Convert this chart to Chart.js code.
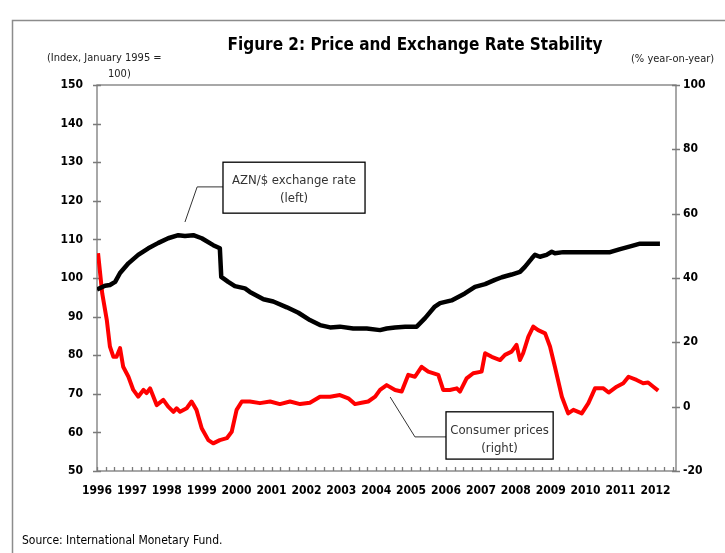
<!DOCTYPE html>
<html>
<head>
<meta charset="utf-8">
<script src="https://cdn.jsdelivr.net/npm/chart.js@4"></script>
<style>
  html, body { margin: 0; padding: 0; background: #fff; }
  #wrap { width: 725px; height: 553px; }
</style>
</head>
<body>
<div id="wrap"><canvas id="myChart" width="725" height="553"></canvas></div>
<script>
// AZN/$ exchange rate (left axis, index Jan 1995 = 100)
const fxYears = [1996.0, 1996.23, 1996.37, 1996.52, 1996.66, 1996.9, 1997.18, 1997.47, 1997.76, 1998.04,
  1998.33, 1998.52, 1998.76, 1999.0, 1999.33, 1999.52, 1999.56, 1999.76, 1999.95, 2000.24,
  2000.38, 2000.77, 2001.05, 2001.44, 2001.77, 2002.1, 2002.39, 2002.68, 2002.96, 2003.34,
  2003.73, 2004.11, 2004.3, 2004.54, 2004.83, 2005.16, 2005.4, 2005.68, 2005.83, 2006.16,
  2006.54, 2006.83, 2007.12, 2007.4, 2007.6, 2007.88, 2008.12, 2008.26, 2008.46, 2008.55,
  2008.69, 2008.88, 2009.03, 2009.12, 2009.36, 2009.93, 2010.7, 2010.99, 2011.28, 2011.56,
  2011.85, 2012.13];
const fxValues = [97.0, 98.0, 98.2, 99.0, 101.3, 103.8, 106.0, 107.7, 109.1, 110.3,
  111.1, 110.9, 111.1, 110.3, 108.5, 107.7, 100.3, 99.0, 97.9, 97.3,
  96.4, 94.5, 93.9, 92.4, 91.0, 89.1, 87.8, 87.2, 87.4, 86.9,
  86.9, 86.5, 86.9, 87.2, 87.4, 87.4, 89.6, 92.6, 93.5, 94.2,
  96.0, 97.7, 98.4, 99.5, 100.2, 100.9, 101.6, 102.9, 105.1, 106.0,
  105.5, 106.0, 106.8, 106.4, 106.7, 106.7, 106.7, 107.5, 108.2, 108.9,
  108.9, 108.9];

// Consumer prices (right axis, % year-on-year)
const cpiYears = [1996.03, 1996.15, 1996.28, 1996.37, 1996.47, 1996.56, 1996.66, 1996.75, 1996.9, 1997.04,
  1997.18, 1997.33, 1997.42, 1997.52, 1997.71, 1997.9, 1998.04, 1998.19, 1998.28, 1998.38,
  1998.57, 1998.71, 1998.85, 1999.0, 1999.19, 1999.33, 1999.52, 1999.72, 1999.86, 2000.0,
  2000.15, 2000.38, 2000.67, 2000.96, 2001.24, 2001.53, 2001.82, 2002.1, 2002.39, 2002.68,
  2002.96, 2003.2, 2003.39, 2003.58, 2003.77, 2003.97, 2004.11, 2004.3, 2004.54, 2004.73,
  2004.92, 2005.11, 2005.3, 2005.49, 2005.78, 2005.92, 2006.11, 2006.31, 2006.4, 2006.59,
  2006.78, 2007.02, 2007.12, 2007.31, 2007.55, 2007.69, 2007.88, 2008.02, 2008.12, 2008.21,
  2008.36, 2008.5, 2008.64, 2008.84, 2008.98, 2009.12, 2009.32, 2009.5, 2009.65, 2009.89,
  2010.08, 2010.27, 2010.51, 2010.66, 2010.89, 2011.08, 2011.23, 2011.46, 2011.65, 2011.79,
  2011.94, 2012.08];
const cpiValues = [47.7, 35.2, 27.0, 18.7, 15.5, 15.5, 18.2, 12.4, 9.3, 5.2,
  3.1, 5.2, 4.2, 5.7, 0.5, 2.1, 0.0, -1.6, -0.5, -1.6,
  -0.5, 1.6, -1.0, -6.7, -10.4, -11.4, -10.4, -9.8, -7.8, -1.0,
  1.6, 1.6, 1.1, 1.6, 0.8, 1.6, 0.8, 1.2, 3.1, 3.1,
  3.6, 2.6, 0.8, 1.2, 1.6, 3.1, 5.2, 6.7, 5.2, 4.7,
  9.9, 9.3, 12.4, 10.9, 9.9, 5.2, 5.2, 5.7, 4.7, 8.8,
  10.4, 10.9, 16.6, 15.5, 14.5, 16.1, 17.1, 19.2, 14.5, 16.6,
  21.8, 24.9, 23.8, 22.8, 18.7, 12.4, 3.1, -2.1, -1.0, -2.1,
  1.1, 5.7, 5.7, 4.4, 6.2, 7.3, 9.3, 8.3, 7.3, 7.5,
  6.2, 5.0];

const yearLabels = [1996, 1997, 1998, 1999, 2000, 2001, 2002, 2003, 2004, 2005, 2006, 2007, 2008, 2009, 2010, 2011, 2012];
const leftTicks = [50, 60, 70, 80, 90, 100, 110, 120, 130, 140, 150];
const rightTicks = [-20, 0, 20, 40, 60, 80, 100];

const FONT = "'Liberation Sans Narrow', 'DejaVu Sans Condensed', 'Liberation Sans', sans-serif";
const AXIS_GREY = "#7a7a7a";

const decorations = {
  id: "decorations",
  beforeDatasetsDraw(chart) {
    const { ctx, chartArea: a, scales } = chart;
    ctx.save();
    // outer frame (cut off at right and bottom)
    ctx.strokeStyle = "#8c8c8c";
    ctx.lineWidth = 1.5;
    ctx.beginPath();
    ctx.moveTo(12.5, 553);
    ctx.lineTo(12.5, 20.5);
    ctx.lineTo(725, 20.5);
    ctx.stroke();

    // plot box
    ctx.strokeStyle = AXIS_GREY;
    ctx.lineWidth = 1.3;
    ctx.strokeRect(a.left, a.top, a.right - a.left, a.bottom - a.top);

    ctx.beginPath();
    leftTicks.forEach(v => {
      const y = Math.round(scales.y.getPixelForValue(v)) + 0.5;
      ctx.moveTo(a.left - 4, y); ctx.lineTo(a.left + 4, y);
    });
    rightTicks.forEach(v => {
      const y = Math.round(scales.y1.getPixelForValue(v)) + 0.5;
      ctx.moveTo(a.right - 4, y); ctx.lineTo(a.right + 4, y);
    });
    for (let q = 1996; q <= scales.x.max; q += 0.25) {
      const x = Math.round(scales.x.getPixelForValue(q)) + 0.5;
      ctx.moveTo(x, a.bottom); ctx.lineTo(x, a.bottom - 4);
    }
    ctx.stroke();

    // titles
    ctx.fillStyle = "#000";
    ctx.textBaseline = "alphabetic";
    ctx.textAlign = "center";
    ctx.font = "bold 17px " + FONT;
    ctx.fillText("Figure 2: Price and Exchange Rate Stability", 415, 50);

    ctx.font = "11px " + FONT;
    ctx.fillStyle = "#222";
    ctx.textAlign = "left";
    ctx.fillText("(Index, January 1995 =", 47, 61);
    ctx.fillText("100)", 108, 77);
    ctx.fillText("(% year-on-year)", 631, 62);

    ctx.font = "12px " + FONT;
    ctx.fillStyle = "#000";
    ctx.fillText("Source: International Monetary Fund.", 22, 544);
    ctx.restore();
  },
  afterDatasetsDraw(chart) {
    const { ctx, scales } = chart;
    const px = v => scales.x.getPixelForValue(v);
    ctx.save();
    const callout = (pts, box, lines) => {
      ctx.strokeStyle = "#333";
      ctx.lineWidth = 1;
      ctx.beginPath();
      pts.forEach((p, i) => i ? ctx.lineTo(p[0], p[1]) : ctx.moveTo(p[0], p[1]));
      ctx.stroke();
      ctx.fillStyle = "#fff";
      ctx.fillRect(box[0], box[1], box[2] - box[0], box[3] - box[1]);
      ctx.strokeStyle = "#000";
      ctx.lineWidth = 1.3;
      ctx.strokeRect(box[0], box[1], box[2] - box[0], box[3] - box[1]);
      ctx.fillStyle = "#333";
      ctx.font = "13px " + FONT;
      ctx.textAlign = "center";
      const cx = (box[0] + box[2]) / 2;
      ctx.fillText(lines[0], cx, box[1] + 22);
      ctx.fillText(lines[1], cx, box[1] + 40);
    };
    const ly = v => scales.y.getPixelForValue(v);
    callout(
      [[px(1998.52), ly(114.5)], [px(1998.87), ly(123.6)], [px(1999.61), ly(123.6)]],
      [px(1999.61), ly(130.0), px(2003.68), ly(116.8)],
      ["AZN/$ exchange rate", "(left)"]
    );
    const ry = v => scales.y1.getPixelForValue(v);
    callout(
      [[px(2004.4), ry(3.0)], [px(2005.11), ry(-9.4)], [px(2006.0), ry(-9.4)]],
      [px(2006.0), ry(-1.6), px(2009.07), ry(-16.3)],
      ["Consumer prices", "(right)"]
    );
    ctx.restore();
  }
};

const tickFont = { family: FONT, size: 12, weight: "bold" };

new Chart(document.getElementById("myChart"), {
  type: "line",
  data: {
    datasets: [
      {
        label: "AZN/$ exchange rate (left)",
        data: fxYears.map((x, i) => ({ x, y: fxValues[i] })),
        borderColor: "#000",
        borderWidth: 4.5,
        pointRadius: 0,
        tension: 0,
        borderJoinStyle: "round",
        yAxisID: "y"
      },
      {
        label: "Consumer prices (right)",
        data: cpiYears.map((x, i) => ({ x, y: cpiValues[i] })),
        borderColor: "#ff0000",
        borderWidth: 4,
        pointRadius: 0,
        tension: 0,
        borderJoinStyle: "round",
        yAxisID: "y1"
      }
    ]
  },
  options: {
    responsive: false,
    animation: false,
    layout: { padding: { top: 85, left: 0, right: 0, bottom: 0 } },
    plugins: { legend: { display: false }, tooltip: { enabled: false } },
    scales: {
      x: {
        type: "linear",
        min: 1996,
        max: 2012.59,
        grid: { display: false, drawTicks: false },
        border: { display: false },
        afterBuildTicks: s => { s.ticks = yearLabels.map(v => ({ value: v })); },
        afterFit: s => { s.height = 82; },
        ticks: {
          autoSkip: false, maxRotation: 0, padding: 13, color: "#000", font: tickFont,
          callback: v => String(v)
        }
      },
      y: {
        position: "left",
        min: 50, max: 150,
        grid: { display: false, drawTicks: false },
        border: { display: false },
        afterBuildTicks: s => { s.ticks = leftTicks.map(v => ({ value: v })); },
        afterFit: s => { s.width = 97; },
        ticks: { padding: 14, color: "#000", font: tickFont }
      },
      y1: {
        position: "right",
        min: -20, max: 100,
        grid: { display: false, drawTicks: false },
        border: { display: false },
        afterBuildTicks: s => { s.ticks = rightTicks.map(v => ({ value: v })); },
        afterFit: s => { s.width = 49; },
        ticks: { padding: 7, color: "#000", font: tickFont }
      }
    }
  },
  plugins: [decorations]
});
</script>
</body>
</html>
